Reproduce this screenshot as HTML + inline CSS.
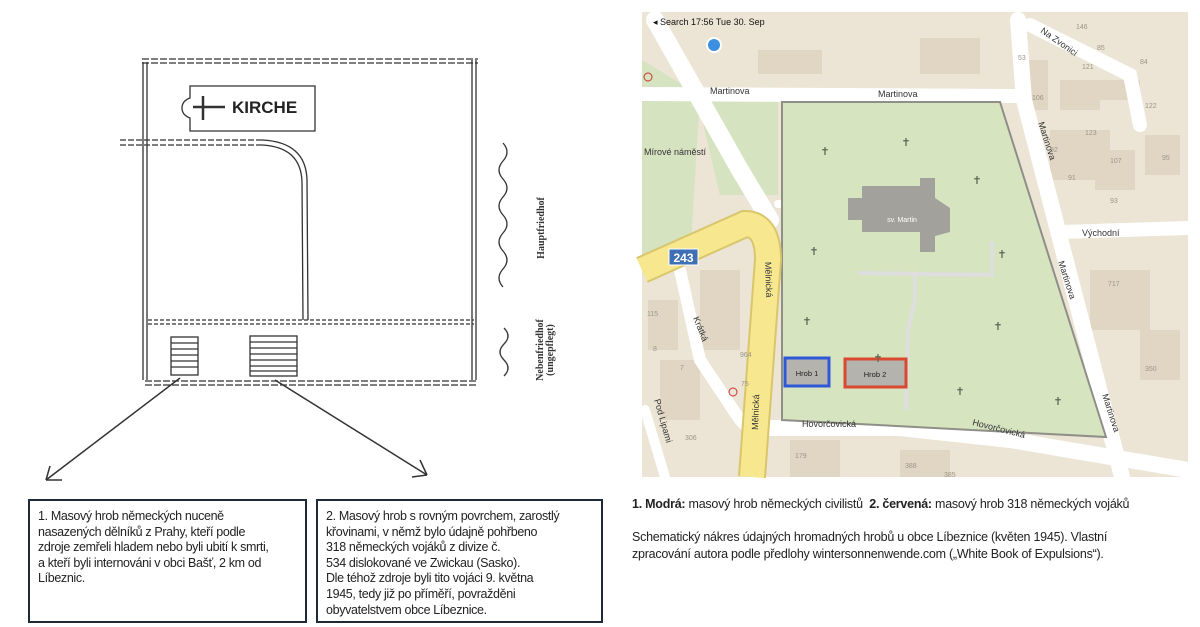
<!DOCTYPE html>
<html><head><meta charset="utf-8"><style>
body{margin:0;background:#fff;width:1200px;height:627px;position:relative;overflow:hidden;font-family:"Liberation Sans",sans-serif}
.box{position:absolute;border:2px solid #1d2a3a;box-sizing:border-box;padding:8px 8px;font-size:12.5px;line-height:15.6px;color:#222;white-space:nowrap;letter-spacing:-0.35px}
.cap{position:absolute;left:632px;font-size:12.5px;line-height:16.5px;color:#222;letter-spacing:-0.25px;white-space:nowrap}
</style></head><body>
<svg width="1200" height="627" style="position:absolute;left:0;top:0" xmlns="http://www.w3.org/2000/svg">
<g stroke="#333" fill="none" stroke-width="1.3">
 <line x1="142" y1="59" x2="478" y2="59" stroke-dasharray="7,2"/>
 <line x1="142" y1="63" x2="478" y2="63" stroke-dasharray="7,2"/>
 <line x1="143" y1="62" x2="143" y2="380"/><line x1="147" y1="62" x2="147" y2="380"/>
 <line x1="472" y1="60" x2="472" y2="380"/><line x1="476" y1="60" x2="476" y2="380"/>
 <line x1="145" y1="381" x2="478" y2="381" stroke-dasharray="7,2"/>
 <line x1="145" y1="385" x2="478" y2="385" stroke-dasharray="7,2"/>
 <line x1="148" y1="320" x2="474" y2="320" stroke-dasharray="4,2"/>
 <line x1="148" y1="324" x2="474" y2="324" stroke-dasharray="4,2"/>
 <line x1="120" y1="140" x2="262" y2="140" stroke-dasharray="6,2"/>
 <line x1="120" y1="145" x2="262" y2="145" stroke-dasharray="6,2"/>
 <path d="M262 140 Q306 142 307 180 L308 320"/>
 <path d="M262 145 Q301 147 302 182 L303 320"/>
 <path d="M190 86 L315 86 L315 131 L190 131 L190 118 Q182 115 182 108 Q182 101 190 98 Z"/>
 <line x1="193" y1="107" x2="225" y2="107" stroke-width="2.5"/>
 <line x1="203" y1="96" x2="203" y2="120" stroke-width="2.5"/>
 <rect x="171" y="337" width="27" height="38"/>
 <line x1="171" y1="343" x2="198" y2="343"/><line x1="171" y1="349" x2="198" y2="349"/><line x1="171" y1="355" x2="198" y2="355"/><line x1="171" y1="361" x2="198" y2="361"/><line x1="171" y1="367" x2="198" y2="367"/>
 <rect x="250" y="336" width="47" height="40"/>
 <line x1="250" y1="342" x2="297" y2="342"/><line x1="250" y1="348" x2="297" y2="348"/><line x1="250" y1="354" x2="297" y2="354"/><line x1="250" y1="360" x2="297" y2="360"/><line x1="250" y1="366" x2="297" y2="366"/><line x1="250" y1="371" x2="297" y2="371"/>
 <line x1="180" y1="378" x2="46" y2="480" stroke-width="1.5"/>
 <path d="M46 480 L50 466 M46 480 L62 480" stroke-width="1.5"/>
 <line x1="275" y1="380" x2="427" y2="475" stroke-width="1.5"/>
 <path d="M427 475 L420 460 M427 475 L412 477" stroke-width="1.5"/>
 <path d="M503 143 q8 9 0 18 q-8 9 0 18 q8 9 0 18 q-8 9 0 18 q8 9 0 18 q-8 9 0 18 q8 9 0 18 q-8 9 0 18" />
 <path d="M504 328 q8 8 0 16 q-8 8 0 16 q8 8 0 16"/>
</g>
<g font-family="Liberation Serif,serif" font-weight="bold" font-size="10" fill="#333">
 <text x="232" y="113" font-family="Liberation Sans,sans-serif" font-weight="bold" font-size="17" fill="#222">KIRCHE</text>
 <text transform="translate(544,228) rotate(-90)" text-anchor="middle">Hauptfriedhof</text>
 <text transform="translate(543,350) rotate(-90)" text-anchor="middle">Nebenfriedhof</text>
 <text transform="translate(553,350) rotate(-90)" text-anchor="middle">(ungepflegt)</text>
</g>
<g>
 <rect x="642" y="12" width="546" height="465" fill="#ece4d4"/>
 <g fill="#e0d6c3">
  <rect x="758" y="50" width="64" height="24"/><rect x="920" y="38" width="60" height="36"/>
  <rect x="1020" y="60" width="28" height="50"/><rect x="1060" y="80" width="40" height="30"/>
  <rect x="1050" y="130" width="60" height="50"/><rect x="1095" y="150" width="40" height="40"/>
  <rect x="1145" y="135" width="35" height="40"/><rect x="1090" y="270" width="60" height="60"/>
  <rect x="1140" y="330" width="40" height="50"/><rect x="700" y="270" width="40" height="80"/>
  <rect x="648" y="300" width="30" height="50"/><rect x="660" y="360" width="40" height="60"/>
  <rect x="790" y="440" width="50" height="37"/><rect x="900" y="450" width="50" height="27"/>
  <rect x="1090" y="80" width="50" height="20"/>
 </g>
 <polygon points="642,60 700,95 690,260 642,260" fill="#d5e3c0"/>
 <polygon points="698,102 778,102 778,195 720,195" fill="#d5e3c0"/>
 <g stroke="#fff" fill="none" stroke-linecap="round">
  <line x1="642" y1="94" x2="1020" y2="96" stroke-width="14"/>
  <path d="M1018 20 L1024 100 L1122 477" stroke-width="16"/>
  <path d="M1030 25 L1130 75 L1140 125" stroke-width="14"/>
  <line x1="1060" y1="232" x2="1188" y2="228" stroke-width="14"/>
  <path d="M655 20 L740 170 L770 220" stroke-width="18"/>
  <path d="M680 270 L700 360 L740 420 L760 440" stroke-width="12"/>
  <path d="M760 428 L900 428 L1010 440 L1188 470" stroke-width="16"/>
  <line x1="778" y1="204" x2="830" y2="204" stroke-width="8"/>
  <line x1="645" y1="410" x2="665" y2="477" stroke-width="10"/>
 </g>
 <polygon points="782,102 1000,102 1106,437 782,420" fill="#d6e4c0" stroke="#8f8f88" stroke-width="2"/>
 <g stroke="#dedede" stroke-width="4" fill="none">
  <path d="M858 273 L992 275 L992 241"/><path d="M915 273 L915 300 L908 330 L906 410"/>
 </g>
 <polygon points="848,198 862,198 862,186 920,186 920,178 935,178 935,198 950,208 950,232 935,236 935,252 920,252 920,232 862,232 862,220 848,220" fill="#a3a19c"/>
 <text x="902" y="222" font-size="7" fill="#fff" text-anchor="middle">sv. Martin</text>
 <path d="M642 270 L745 224 Q768 224 768 260 L752 477" stroke="#d9c66a" stroke-width="28" fill="none"/>
 <path d="M642 270 L745 224 Q768 224 768 260 L752 477" stroke="#f7e890" stroke-width="24" fill="none"/>
 <rect x="669" y="249" width="29" height="16" fill="#3f6fb5" stroke="#fff" stroke-width="1"/>
 <text x="683.5" y="262" font-size="12" font-weight="bold" fill="#fff" text-anchor="middle">243</text>
 <rect x="785" y="358" width="44" height="28" fill="#b5b3ae" stroke="#2f57d8" stroke-width="3"/>
 <text x="807" y="376" font-size="7.5" fill="#222" text-anchor="middle">Hrob 1</text>
 <rect x="845" y="359" width="61" height="28" fill="#b5b3ae" stroke="#d9482f" stroke-width="3"/>
 <text x="875" y="377" font-size="7.5" fill="#222" text-anchor="middle">Hrob 2</text>
 <g fill="#5f6a58" font-size="11" text-anchor="middle">
  <text x="825" y="155">✝</text><text x="906" y="146">✝</text><text x="977" y="184">✝</text>
  <text x="814" y="255">✝</text><text x="1002" y="258">✝</text><text x="807" y="325">✝</text>
  <text x="998" y="330">✝</text><text x="878" y="362">✝</text><text x="960" y="395">✝</text><text x="1058" y="405">✝</text>
 </g>
 <g font-size="9" fill="#333">
  <text x="710" y="94">Martinova</text><text x="878" y="97">Martinova</text>
  <text x="644" y="155">Mírové náměstí</text>
  <text x="1082" y="236">Východní</text>
  <text x="802" y="427">Hovorčovická</text>
  <text transform="translate(972,425) rotate(14)">Hovorčovická</text>
  <text transform="translate(1038,123) rotate(72)">Martinova</text>
  <text transform="translate(1058,262) rotate(72)">Martinova</text>
  <text transform="translate(1102,395) rotate(72)">Martinova</text>
  <text transform="translate(1040,32) rotate(35)">Na Zvonici</text>
  <text transform="translate(765,262) rotate(88)">Mělnická</text>
  <text transform="translate(758,430) rotate(-88)">Mělnická</text>
  <text transform="translate(693,318) rotate(68)">Krátká</text>
  <text transform="translate(654,400) rotate(74)">Pod Lipami</text>
 </g>
 <g font-size="7" fill="#9c9688">
  <text x="1076" y="29">146</text><text x="1097" y="50">85</text><text x="1140" y="64">84</text>
  <text x="1032" y="100">106</text><text x="1145" y="108">122</text><text x="1085" y="135">123</text>
  <text x="1050" y="152">92</text><text x="1110" y="163">107</text><text x="1162" y="160">95</text>
  <text x="1068" y="180">91</text><text x="1110" y="203">93</text><text x="1108" y="286">717</text>
  <text x="1145" y="371">350</text><text x="647" y="316">115</text><text x="653" y="351">8</text>
  <text x="680" y="370">7</text><text x="740" y="357">964</text><text x="741" y="386">75</text>
  <text x="685" y="440">306</text><text x="795" y="458">179</text><text x="905" y="468">388</text><text x="944" y="477">385</text>
  <text x="1018" y="60">53</text><text x="1082" y="69">121</text>
 </g>
 <text x="653" y="25" font-size="9" fill="#111">◂ Search   17:56   Tue 30. Sep</text>
 <circle cx="714" cy="45" r="7" fill="#3c8fe0" stroke="#fff" stroke-width="2"/>
 <circle cx="648" cy="77" r="4" fill="none" stroke="#c33" stroke-width="1"/>
 <circle cx="733" cy="392" r="4" fill="none" stroke="#c33" stroke-width="1"/>
</g>
</svg>
<div class="box" style="left:28px;top:499px;width:279px;height:124px">1. Masový hrob německých nuceně<br>nasazených dělníků z Prahy, kteří podle<br>zdroje zemřeli hladem nebo byli ubití k smrti,<br>a kteří byli internováni v obci Bašť, 2 km od<br>Líbeznic.</div>
<div class="box" style="left:316px;top:499px;width:287px;height:124px">2. Masový hrob s rovným povrchem, zarostlý<br>křovinami, v němž bylo údajně pohřbeno<br>318 německých vojáků z divize č.<br>534 dislokované ve Zwickau (Sasko).<br>Dle téhož zdroje byli tito vojáci 9. května<br>1945, tedy již po příměří, povražděni<br>obyvatelstvem obce Líbeznice.</div>
<div class="cap" style="top:496px"><b>1. Modrá:</b> masový hrob německých civilistů &nbsp;<b>2. červená:</b> masový hrob 318 německých vojáků</div>
<div class="cap" style="top:529px">Schematický nákres údajných hromadných hrobů u obce Líbeznice (květen 1945). Vlastní<br>zpracování autora podle předlohy wintersonnenwende.com („White Book of Expulsions“).</div>
</body></html>
